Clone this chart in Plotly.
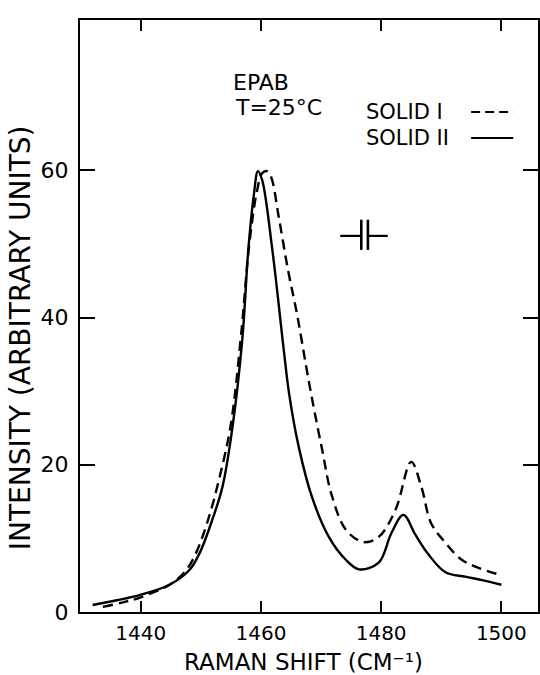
import plotly.graph_objects as go

# ---- data ----
solid2_x = [1432.0, 1436.0, 1439.8, 1444.8, 1448.1, 1449.8, 1451.9, 1453.6, 1455.2, 1456.9,
            1457.9, 1458.8, 1459.5, 1460.2, 1461.9, 1463.8, 1464.7, 1466.3, 1468.5, 1471.3,
            1474.0, 1476.3, 1479.6, 1481.7, 1483.7, 1485.7, 1487.8, 1490.7, 1494.0, 1497.0, 1500.0]
solid2_y = [0.95, 1.6, 2.3, 3.7, 5.7, 8.0, 12.5, 17.0, 24.7, 37.0,
            49.2, 56.5, 59.9, 58.7, 49.2, 35.6, 29.6, 22.4, 15.6, 10.2,
            7.2, 5.8, 6.7, 10.7, 13.2, 10.5, 7.9, 5.4, 4.8, 4.3, 3.7]

solid1_x = [1433.7, 1437.0, 1440.0, 1445.0, 1447.5, 1449.2, 1451.2, 1453.0, 1455.0, 1456.8,
            1458.0, 1459.3, 1460.2, 1461.0, 1461.7, 1463.0, 1464.5, 1466.0, 1467.5, 1468.5,
            1470.2, 1471.8, 1474.2, 1477.1, 1479.6, 1482.4, 1485.0, 1486.7, 1488.3, 1490.7,
            1493.4, 1496.2, 1500.0]
solid1_y = [0.7, 1.3, 2.0, 3.8, 5.6, 8.0, 12.5, 17.9, 25.5, 38.5,
            49.5, 57.0, 59.6, 59.9, 59.1, 53.5, 46.5, 40.5, 33.5, 29.0,
            22.0, 15.8, 11.1, 9.5, 10.2, 13.9, 20.4, 17.0, 12.1, 9.4,
            7.1, 6.0, 5.0]

x_ticks = [1440, 1460, 1480, 1500]
y_ticks = [0, 20, 40, 60]

# resolution marker (instrument slit width)
res_left = [1473.2, 1476.5]
res_right = [1477.9, 1481.1]
res_bars = [1476.7, 1477.8]
res_y = 51.1
res_bar_span = [49.2, 53.3]

FONT = "DejaVu Sans"

fig = go.Figure()
fig.add_trace(go.Scatter(x=solid1_x, y=solid1_y, mode="lines", line_shape="spline",
                         line=dict(color="black", width=2.4, dash="10px,6px"),
                         name="SOLID I", showlegend=False))
fig.add_trace(go.Scatter(x=solid2_x, y=solid2_y, mode="lines", line_shape="spline",
                         line=dict(color="black", width=2.4),
                         name="SOLID II", showlegend=False))

# resolution marker shapes
for seg in (res_left, res_right):
    fig.add_shape(type="line", xref="x", yref="y", x0=seg[0], x1=seg[1], y0=res_y, y1=res_y,
                  line=dict(color="black", width=2.2))
for bx in res_bars:
    fig.add_shape(type="line", xref="x", yref="y", x0=bx, x1=bx,
                  y0=res_bar_span[0], y1=res_bar_span[1], line=dict(color="black", width=2.6))

# legend (text + line sample)
fig.add_annotation(xref="paper", yref="paper", x=0.62, y=0.8446, xanchor="left", yanchor="middle",
                   text="SOLID I", showarrow=False, font=dict(family=FONT, size=21, color="black"))
fig.add_annotation(xref="paper", yref="paper", x=0.62, y=0.8007, xanchor="left", yanchor="middle",
                   text="SOLID II", showarrow=False, font=dict(family=FONT, size=21, color="black"))
fig.add_shape(type="line", xref="paper", yref="paper", x0=0.854, x1=0.946, y0=0.8446, y1=0.8446,
              line=dict(color="black", width=2.2, dash="9px,5px"))
fig.add_shape(type="line", xref="paper", yref="paper", x0=0.854, x1=0.946, y0=0.8007, y1=0.8007,
              line=dict(color="black", width=2.2))

fig.add_annotation(xref="paper", yref="paper", x=0.330, y=0.8936, xanchor="left", yanchor="middle",
                   text="EPAB", showarrow=False, font=dict(family=FONT, size=22, color="black"))
fig.add_annotation(xref="paper", yref="paper", x=0.335, y=0.853, xanchor="left", yanchor="middle",
                   text="T=25°C", showarrow=False, font=dict(family=FONT, size=22, color="black"))

# axis titles as annotations for exact placement
fig.add_annotation(xref="paper", yref="paper", x=0.487, y=-0.085, xanchor="center", yanchor="middle",
                   text="RAMAN SHIFT (CM⁻¹)", showarrow=False,
                   font=dict(family=FONT, size=23, color="black"))
fig.add_annotation(xref="paper", yref="paper", x=-0.128, y=0.463, xanchor="center", yanchor="middle",
                   text="INTENSITY (ARBITRARY UNITS)", textangle=-90, showarrow=False,
                   font=dict(family=FONT, size=28, color="black"))

fig.update_layout(
    width=540, height=675,
    margin=dict(l=80, r=0, t=20, b=63),
    paper_bgcolor="white", plot_bgcolor="white",
    font=dict(family=FONT, color="black"),
    showlegend=False,
)
fig.update_xaxes(range=[1429.9, 1506.1], tickvals=x_ticks, ticktext=[str(v) for v in x_ticks],
                 showgrid=False, zeroline=False, showline=True, linecolor="black", linewidth=2,
                 mirror="allticks", ticks="inside", ticklen=11, tickwidth=2, tickcolor="black",
                 tickfont=dict(family=FONT, size=20, color="black"), ticklabelstandoff=2)
fig.update_yaxes(range=[0, 80.43], tickvals=y_ticks, ticktext=[str(v) for v in y_ticks],
                 showgrid=False, zeroline=False, showline=True, linecolor="black", linewidth=2,
                 mirror="allticks", ticks="inside", ticklen=15, tickwidth=2, tickcolor="black",
                 tickfont=dict(family=FONT, size=22, color="black"), ticklabelstandoff=5)

fig.write_html("out.html", config={"displayModeBar": False},
               post_script="document.body.style.margin='0';document.body.style.overflow='hidden';")
